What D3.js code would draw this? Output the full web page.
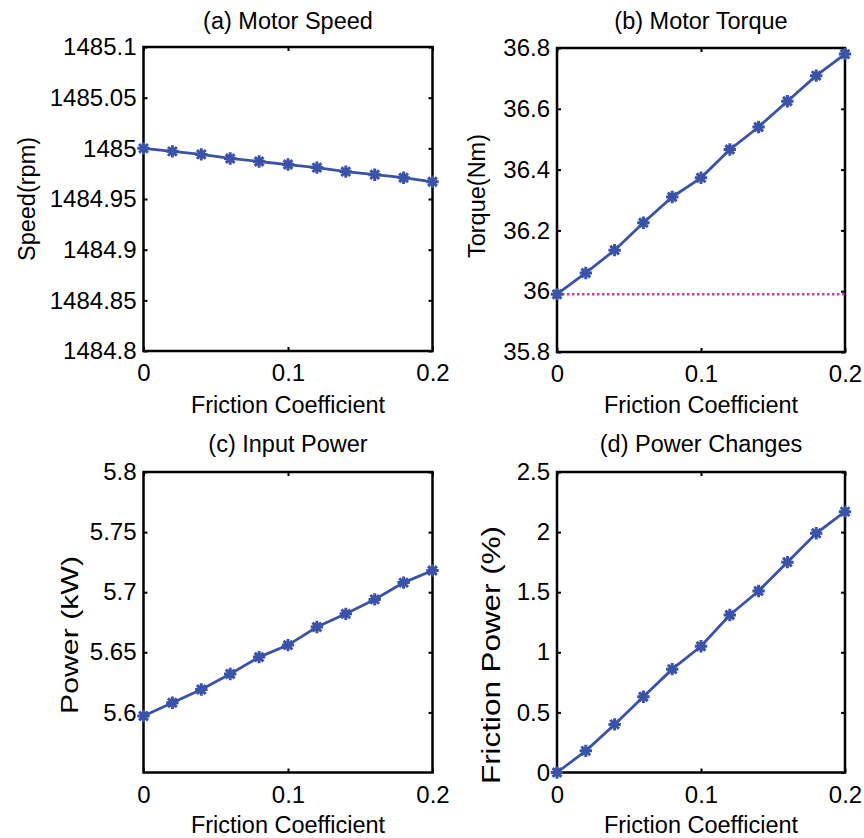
<!DOCTYPE html>
<html>
<head>
<meta charset="utf-8">
<script src="https://cdn.jsdelivr.net/npm/d3@7"></script>
<style>
  html, body { margin: 0; padding: 0; background: #fff; }
  svg { display: block; }
  text { font-family: "Liberation Sans", Arial, sans-serif; fill: #000; }
</style>
</head>
<body>
<svg id="chart" width="864" height="838"></svg>
<script>
// ---- data ----
const friction = [0, 0.02, 0.04, 0.06, 0.08, 0.10, 0.12, 0.14, 0.16, 0.18, 0.20];
const speed = [1485.0, 1484.997, 1484.994, 1484.990, 1484.987, 1484.984, 1484.981, 1484.977, 1484.974, 1484.971, 1484.967];
const torque = [35.99, 36.06, 36.135, 36.225, 36.31, 36.373, 36.466, 36.54, 36.625, 36.709, 36.78];
const torqueBase = [35.99, 35.99];
const torqueBaseX = [0, 0.2];
const power = [5.597, 5.608, 5.619, 5.632, 5.646, 5.656, 5.671, 5.682, 5.694, 5.708, 5.718];
const frictionPower = [0, 0.18, 0.40, 0.63, 0.86, 1.05, 1.31, 1.51, 1.75, 1.99, 2.17];

const xTicks = [0, 0.1, 0.2];
const xTickLabels = ["0", "0.1", "0.2"];
const speedTicks = [1484.8, 1484.85, 1484.9, 1484.95, 1485, 1485.05, 1485.1];
const speedTickLabels = ["1484.8", "1484.85", "1484.9", "1484.95", "1485", "1485.05", "1485.1"];
const torqueTicks = [35.8, 36, 36.2, 36.4, 36.6, 36.8];
const torqueTickLabels = ["35.8", "36", "36.2", "36.4", "36.6", "36.8"];
const powerTicks = [5.6, 5.65, 5.7, 5.75, 5.8];
const powerTickLabels = ["5.6", "5.65", "5.7", "5.75", "5.8"];
const fpTicks = [0, 0.5, 1, 1.5, 2, 2.5];
const fpTickLabels = ["0", "0.5", "1", "1.5", "2", "2.5"];

const titles = ["(a) Motor Speed", "(b) Motor Torque", "(c) Input Power", "(d) Power Changes"];
const yLabels = ["Speed(rpm)", "Torque(Nm)", "Power (kW)", "Friction Power (%)"];
const xLabel = "Friction Coefficient";

// ---- layout ----
const BLUE = "#3a53a9";
const MAG = "#c23fae";
const FS_TICK = 24;
const FS = 23.5;

const panels = [
  { box: [143.5, 47, 432.5, 351], ys: speed, dom: [1484.8, 1485.1], ticks: speedTicks, labels: speedTickLabels,
    title: titles[0], ylab: yLabels[0], ylabX: 35, ylabY: 199, ylabFS: 23.5, titleY: 29, xlabY: 413 },
  { box: [557, 48, 845, 352], ys: torque, dom: [35.8, 36.8], ticks: torqueTicks, labels: torqueTickLabels,
    title: titles[1], ylab: yLabels[1], ylabX: 485, ylabY: 196, ylabFS: 23.5, titleY: 29, xlabY: 413, base: true },
  { box: [143.5, 472, 432.5, 772.5], ys: power, dom: [5.55, 5.8], ticks: powerTicks, labels: powerTickLabels,
    title: titles[2], ylab: yLabels[2], ylabX: 78, ylabY: 635, ylabFS: 24, ylabLen: 158, titleY: 452, xlabY: 833 },
  { box: [557, 472, 845, 772.5], ys: frictionPower, dom: [0, 2.5], ticks: fpTicks, labels: fpTickLabels,
    title: titles[3], ylab: yLabels[3], ylabX: 500, ylabY: 655, ylabFS: 25, ylabLen: 258, titleY: 452, xlabY: 833 }
];

const svg = d3.select("#chart");

function asterisk(r) {
  const p = d3.path();
  for (let k = 0; k < 4; k++) {
    const a = k * Math.PI / 4;
    p.moveTo(-r * Math.cos(a), -r * Math.sin(a));
    p.lineTo(r * Math.cos(a), r * Math.sin(a));
  }
  return p.toString();
}

panels.forEach(P => {
  const [x0, y0, x1, y1] = P.box;
  const x = d3.scaleLinear().domain([0, 0.2]).range([x0, x1]);
  const y = d3.scaleLinear().domain(P.dom).range([y1, y0]);
  const g = svg.append("g");

  // axes (inward ticks, box)
  const bottom = g.append("g").attr("transform", `translate(0,${y1})`)
    .call(d3.axisBottom(x).tickValues(xTicks).tickFormat((d, i) => xTickLabels[i]).tickSize(-4).tickPadding(13));
  const top = g.append("g").attr("transform", `translate(0,${y0})`)
    .call(d3.axisTop(x).tickValues(xTicks).tickFormat("").tickSize(-4));
  const left = g.append("g").attr("transform", `translate(${x0},0)`)
    .call(d3.axisLeft(y).tickValues(P.ticks).tickFormat((d, i) => P.labels[i]).tickSize(-4).tickPadding(7));
  const right = g.append("g").attr("transform", `translate(${x1},0)`)
    .call(d3.axisRight(y).tickValues(P.ticks).tickFormat("").tickSize(-4));
  [bottom, top, left, right].forEach(a => {
    a.select(".domain").remove();
    a.selectAll(".tick line").attr("stroke", "#000").attr("stroke-width", 2);
    a.selectAll("text").attr("font-size", FS_TICK).attr("font-family", "Liberation Sans, Arial, sans-serif").attr("fill", "#000");
  });

  g.append("rect").attr("x", x0).attr("y", y0).attr("width", x1 - x0).attr("height", y1 - y0)
    .attr("fill", "none").attr("stroke", "#000").attr("stroke-width", 2.5);

  if (P.base) {
    g.append("path")
      .datum(torqueBaseX.map((v, i) => [v, torqueBase[i]]))
      .attr("d", d3.line().x(d => x(d[0])).y(d => y(d[1])))
      .attr("stroke", MAG).attr("stroke-width", 2.6).attr("stroke-dasharray", "2.5,2.5").attr("fill", "none");
  }

  const pts = friction.map((f, i) => [f, P.ys[i]]);
  g.append("path").datum(pts)
    .attr("d", d3.line().x(d => x(d[0])).y(d => y(d[1])))
    .attr("stroke", BLUE).attr("stroke-width", 2.8).attr("fill", "none");
  g.selectAll(".mk").data(pts).enter().append("path")
    .attr("transform", d => `translate(${x(d[0])},${y(d[1])})`)
    .attr("d", asterisk(6.2))
    .attr("stroke", BLUE).attr("stroke-width", 3).attr("fill", "none");

  // texts
  g.append("text").attr("x", (x0 + x1) / 2).attr("y", P.titleY).attr("text-anchor", "middle")
    .attr("font-size", FS).text(P.title);
  g.append("text").attr("x", (x0 + x1) / 2).attr("y", P.xlabY).attr("text-anchor", "middle")
    .attr("font-size", FS).text(xLabel);
  const yl = g.append("text").attr("transform", `translate(${P.ylabX},${P.ylabY}) rotate(-90)`)
    .attr("text-anchor", "middle").attr("font-size", P.ylabFS).text(P.ylab);
  if (P.ylabLen) yl.attr("textLength", P.ylabLen).attr("lengthAdjust", "spacingAndGlyphs");
});
</script>
</body>
</html>
